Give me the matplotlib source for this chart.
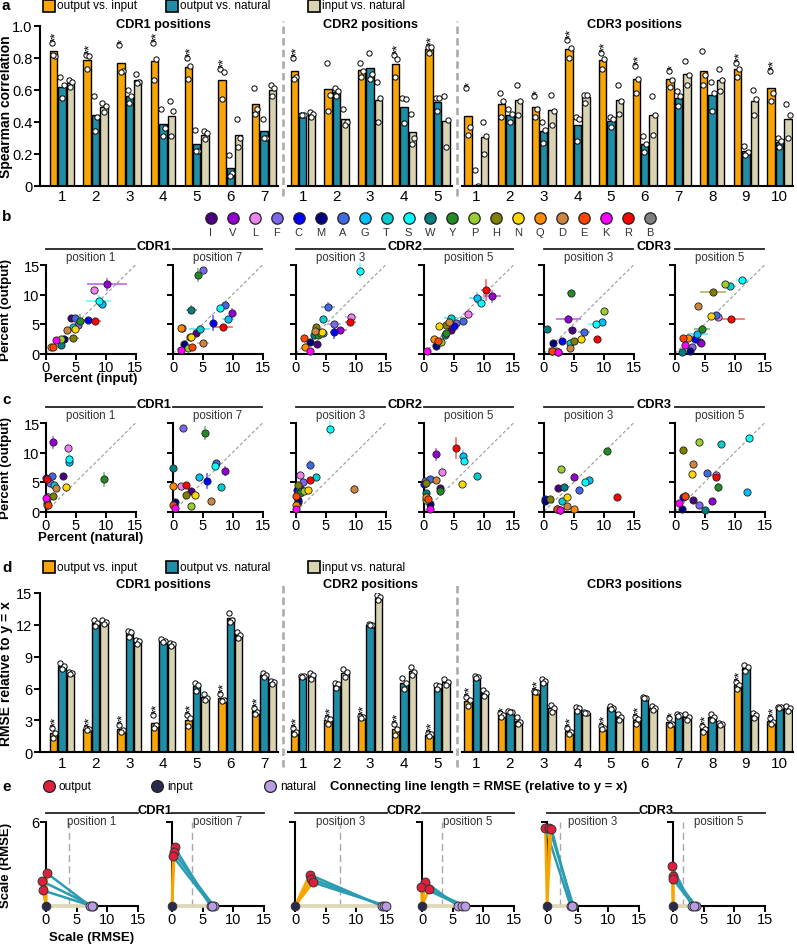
import matplotlib
matplotlib.use("Agg")
import matplotlib.pyplot as plt
import matplotlib.transforms as mtransforms
import numpy as np

plt.rcParams["font.family"] = ["Liberation Sans", "DejaVu Sans"]

# ---------------- data ----------------
GROUPS = ["CDR1", "CDR2", "CDR3"]
POS_LABELS = ["1", "2", "3", "4", "5", "6", "7", "1", "2", "3", "4", "5",
              "1", "2", "3", "4", "5", "6", "7", "8", "9", "10"]
SERIES = ["output vs. input", "output vs. natural", "input vs. natural"]

# a: Spearman correlation, three replicates per bar
SPEAR_OUT_IN = [
    (0.89, 0.81, 0.82), (0.82, 0.81, 0.73), (0.88, 0.72, 0.71), (0.89, 0.79, 0.66),
    (0.80, 0.75, 0.67), (0.73, 0.71, 0.54), (0.61, 0.48, 0.45),
    (0.80, 0.68, 0.67), (0.77, 0.57, 0.47), (0.77, 0.72, 0.68), (0.82, 0.79, 0.68),
    (0.87, 0.87, 0.83),
    (0.61, 0.37, 0.32), (0.58, 0.53, 0.43), (0.56, 0.48, 0.43), (0.91, 0.86, 0.80),
    (0.83, 0.79, 0.73), (0.75, 0.67, 0.58), (0.72, 0.66, 0.62), (0.84, 0.69, 0.63),
    (0.77, 0.73, 0.68), (0.72, 0.58, 0.53),
]
SPEAR_OUT_NAT = [
    (0.68, 0.63, 0.55), (0.56, 0.43, 0.34), (0.60, 0.56, 0.52), (0.48, 0.36, 0.31),
    (0.35, 0.22, 0.22), (0.19, 0.08, 0.06), (0.42, 0.30, 0.30),
    (0.44, 0.44, 0.44), (0.61, 0.59, 0.56), (0.83, 0.70, 0.67), (0.55, 0.54, 0.39),
    (0.55, 0.55, 0.47),
    (0.10, 0.0, -0.08), (0.48, 0.45, 0.40), (0.40, 0.35, 0.27), (0.43, 0.42, 0.28),
    (0.43, 0.42, 0.37), (0.31, 0.26, 0.21), (0.59, 0.56, 0.50), (0.65, 0.58, 0.47),
    (0.25, 0.21, 0.19), (0.30, 0.28, 0.24),
]
SPEAR_IN_NAT = [
    (0.66, 0.65, 0.62), (0.52, 0.50, 0.46), (0.70, 0.65, 0.64), (0.53, 0.47, 0.31),
    (0.34, 0.33, 0.29), (0.42, 0.30, 0.24), (0.63, 0.61, 0.56),
    (0.46, 0.45, 0.43), (0.48, 0.40, 0.38), (0.65, 0.55, 0.40), (0.45, 0.30, 0.26),
    (0.56, 0.41, 0.24),
    (0.40, 0.31, 0.20), (0.63, 0.53, 0.44), (0.57, 0.47, 0.38), (0.57, 0.57, 0.52),
    (0.63, 0.53, 0.45), (0.56, 0.44, 0.32), (0.78, 0.69, 0.63), (0.73, 0.66, 0.59),
    (0.60, 0.54, 0.44), (0.51, 0.44, 0.30),
]
SPEAR_STARS = ["**", "**", "*", "**", "**", "**", "",
               "**", "", "", "**", "**",
               "*", "", "*", "**", "**", "**", "*", "", "**", "**"]
SPEAR_TICKS = [0, 0.2, 0.4, 0.6, 0.8, 1.0]
SPEAR_TICKLABELS = ["0", "0.2", "0.4", "0.6", "0.8", "1.0"]

# d: RMSE relative to y = x, three replicates per bar
RMSE_OUT_IN = [
    (2.3, 1.8, 1.3), (2.3, 2.2, 2.1), (2.6, 2.1, 1.9), (3.5, 2.6, 2.3),
    (3.5, 3.2, 2.5), (5.5, 4.9, 4.8), (4.2, 3.8, 3.6),
    (2.3, 1.9, 1.7), (3.2, 3.1, 2.7), (3.4, 3.3, 3.2), (2.7, 2.2, 1.6), (1.8, 1.7, 1.5),
    (5.2, 4.9, 4.4), (3.7, 3.5, 3.3), (5.8, 5.7, 5.7), (2.3, 1.9, 1.7), (2.5, 2.3, 2.2),
    (3.3, 3.1, 2.7), (3.2, 2.7, 2.6), (2.5, 2.2, 1.9), (6.6, 6.3, 6.0), (3.2, 2.9, 2.7),
]
RMSE_OUT_NAT = [
    (8.4, 8.1, 7.8), (12.5, 12.2, 11.9), (11.4, 11.3, 10.9), (10.7, 10.5, 10.4),
    (6.5, 6.3, 5.8), (13.1, 12.5, 12.3), (7.5, 7.3, 7.1),
    (7.2, 7.2, 7.1), (6.5, 6.4, 6.1), (12.1, 12.0, 12.0), (7.0, 6.5, 6.0), (6.3, 6.2, 6.0),
    (7.2, 7.1, 7.0), (3.9, 3.8, 3.8), (6.9, 6.7, 6.5), (4.3, 4.2, 3.9), (4.4, 4.2, 4.1),
    (5.2, 5.1, 5.1), (3.6, 3.5, 3.4), (3.6, 3.3, 3.0), (8.2, 8.0, 7.7), (4.3, 4.3, 4.2),
]
RMSE_IN_NAT = [
    (7.6, 7.5, 7.4), (12.5, 12.3, 12.1), (10.6, 10.5, 10.2), (10.3, 10.2, 10.0),
    (5.5, 5.1, 4.9), (11.3, 11.0, 10.8), (6.7, 6.6, 6.4),
    (7.5, 7.3, 6.9), (7.8, 7.6, 7.1), (14.8, 14.6, 14.3), (8.0, 7.6, 7.3), (6.9, 6.6, 6.3),
    (5.9, 5.6, 5.3), (3.3, 2.9, 2.7), (4.5, 4.2, 3.8), (3.8, 3.7, 3.7), (3.6, 3.3, 3.0),
    (4.4, 4.2, 4.0), (3.6, 3.3, 3.0), (2.8, 2.7, 2.6), (3.7, 3.5, 3.2), (4.4, 4.2, 3.9),
]
RMSE_STARS = ["**"] * 12 + ["**", "*", "**", "**", "**", "**", "*", "**", "**", "**"]
RMSE_TICKS = [0, 3, 6, 9, 12, 15]
RMSE_TICKLABELS = ["0", "3", "6", "9", "12", "15"]

# b, c: amino acid percentages
AAS = list("IVLFCMAGTSWYPHNQDEKR")
LEGEND_AAS = AAS + ["B"]
AA_COLORS = ["#4B0082", "#9400D3", "#EE82EE", "#7B68EE", "#0000FF", "#000080",
             "#4169E1", "#00BFFF", "#00CED1", "#00FFFF", "#008080", "#228B22",
             "#9ACD32", "#808000", "#FFD700", "#FF8C00", "#CD853F", "#FF4500",
             "#FF00FF", "#FF0000", "#808080"]
SC_POSITION = ["position 1", "position 7", "position 3", "position 5", "position 3", "position 5"]

#                I     V     L     F     C     M     A     G     T     S     W     Y     P     H     N     Q     D     E     K     R
PCT_OUTPUT = [
    [6.1, 11.7, 10.8, 4.9, 5.6, 2.5, 6.0, 8.35, 4.5, 8.9, 1.4, 5.5, 2.4, 2.7, 4.2, 1.1, 4.0, 1.1, 2.3, 5.5],
    [3.4, 6.9, 4.3, 14.1, 5.1, 1.6, 8.2, 5.8, 4.2, 7.7, 7.4, 13.3, 0.9, 2.8, 2.8, 4.4, 1.7, 1.1, 0.6, 4.5],
    [1.65, 3.9, 6.2, 5.0, 3.6, 1.9, 7.95, 3.4, 5.8, 14.0, 3.2, 3.07, 3.5, 4.5, 3.6, 1.1, 3.8, 2.6, 0.4, 5.35],
    [3.9, 9.7, 6.7, 5.2, 4.6, 1.2, 5.5, 9.4, 6.0, 8.5, 3.1, 3.5, 1.9, 4.85, 4.7, 2.5, 5.3, 2.1, 0.5, 10.8],
    [4.0, 5.8, 0.3, 0.35, 2.1, 1.8, 3.7, 5.4, 1.8, 5.06, 4.15, 10.2, 7.2, 2.2, 2.45, 0.5, 1.0, 0.35, 0.3, 2.45],
    [1.9, 1.8, 6.25, 1.1, 2.4, 0.4, 6.5, 3.35, 11.5, 12.4, 0.2, 4.1, 11.8, 10.45, 6.3, 2.6, 8.0, 2.7, 1.4, 5.9],
]
PCT_INPUT = [
    [4.2, 10.2, 8.0, 5.3, 7.0, 3.0, 4.9, 9.4, 4.5, 8.8, 2.5, 5.7, 2.5, 4.5, 4.8, 0.8, 3.6, 1.2, 1.7, 8.2],
    [3.9, 9.9, 1.5, 5.0, 6.7, 1.9, 8.7, 9.2, 4.5, 7.8, 3.1, 4.2, 2.5, 2.8, 3.0, 1.4, 5.0, 3.2, 1.3, 8.4],
    [3.5, 7.4, 9.2, 6.3, 6.4, 2.3, 5.4, 4.5, 4.5, 10.7, 3.0, 3.7, 4.2, 3.3, 4.4, 1.55, 3.2, 1.4, 2.3, 9.1],
    [4.5, 11.4, 7.4, 5.4, 5.0, 1.95, 6.6, 8.9, 4.6, 9.6, 3.5, 3.7, 2.9, 3.7, 2.5, 1.6, 4.2, 2.4, 0.5, 10.4],
    [4.7, 4.1, 2.3, 1.3, 3.0, 1.5, 6.7, 9.7, 4.4, 8.7, 0.55, 4.45, 10.0, 5.0, 6.2, 2.0, 4.3, 1.3, 2.3, 8.8],
    [4.2, 4.4, 7.2, 2.8, 3.3, 2.5, 6.8, 3.75, 9.3, 11.3, 1.1, 4.5, 8.3, 6.4, 6.0, 2.1, 3.9, 1.3, 1.7, 9.4],
]
PCT_NATURAL = [
    [2.9, 1.25, 3.65, 0.7, 0.0, 0.15, 0.95, 3.9, 1.35, 3.9, 0.2, 9.7, 0.4, 1.25, 3.3, 0.1, 1.7, 0.3, 0.0, 0.2],
    [3.0, 8.7, 1.4, 1.7, 5.7, 0.4, 7.2, 4.4, 8.0, 7.0, 0.0, 5.4, 3.0, 2.1, 3.7, 0.0, 6.3, 0.05, 0.4, 2.1],
    [0.3, 0.7, 0.7, 1.2, 0.15, 0.35, 2.3, 0.5, 3.3, 5.7, 0.4, 0.7, 1.4, 0.33, 2.0, 0.05, 9.7, 0.05, 0.05, 2.3],
    [2.7, 2.0, 3.0, 0.1, 0.0, 1.06, 1.06, 6.6, 8.8, 6.7, 0.4, 2.7, 0.4, 0.4, 6.3, 0.3, 2.0, 0.7, 1.06, 5.4],
    [2.4, 5.1, 2.6, 2.1, 0.2, 0.1, 5.8, 7.6, 3.0, 6.8, 3.4, 10.5, 2.8, 1.0, 3.8, 5.1, 3.8, 2.1, 2.6, 12.2],
    [3.1, 6.2, 6.8, 4.1, 1.4, 1.1, 5.4, 12.1, 7.7, 12.4, 5.1, 7.2, 4.1, 1.4, 2.8, 1.7, 3.1, 1.6, 0.7, 6.8],
]
OUTPUT_ERR = [
    {"V": 0.9, "Y": 1.1, "S": 0.8, "G": 0.4},
    {"Y": 1.0, "C": 1.2, "V": 0.7, "W": 0.6},
    {"S": 1.1, "C": 0.9, "A": 0.6, "L": 0.5, "D": 0.6},
    {"R": 1.7, "V": 0.9, "G": 0.8, "L": 0.7, "S": 0.5},
    {"V": 0.5, "Y": 0.4},
    {"Y": 0.6, "H": 0.3},
]
INPUT_ERR = [
    {"V": 3.2, "S": 2.0, "H": 0.9, "R": 0.8, "Y": 0.6, "C": 0.5},
    {"R": 1.5, "T": 1.6, "W": 0.8, "D": 0.8, "G": 0.8, "C": 0.4},
    {"A": 1.0, "L": 0.9, "R": 0.8, "V": 0.9, "F": 1.0, "C": 0.6},
    {"V": 1.3, "G": 1.2, "L": 0.9, "T": 1.1, "R": 0.6},
    {"V": 2.0, "S": 1.2, "A": 0.8, "N": 0.7, "Y": 0.5},
    {"H": 2.0, "R": 2.2, "Y": 1.2, "G": 1.6, "S": 0.9, "T": 0.8},
]

# e: output points (x, y) and natural distances, three replicates each
E_OUT_X = [[0.16, -0.65, -0.49], [0.44, 0.27, 0.16], [2.38, 2.66, 2.93],
           [0.55, -0.11, 1.15], [-0.27, 0.38, 0.71], [-0.16, 0.0, -0.05]]
E_OUT_Y = [[2.34, 1.77, 1.11], [4.18, 3.83, 3.54], [2.24, 1.94, 1.68],
           [1.70, 1.35, 1.18], [5.60, 5.60, 5.53], [2.83, 2.17, 1.94]]
E_NAT_X = [[7.2, 7.6, 7.5], [6.3, 6.8, 6.5], [14.2, 14.5, 14.9],
           [5.9, 6.5, 7.0], [3.85, 4.3, 4.1], [3.1, 3.7, 3.4]]
E_LEGEND = ["output", "input", "natural"]

# ---------------- layout ----------------
W, H = 797, 945
fig = plt.figure(figsize=(W / 100, H / 100), dpi=100)

BAR_COLORS = ["#F7A507", "#1F8DA5", "#D9D3B1"]
E_RED, E_NAVY, E_LAV = "#DE1F3D", "#2A2A4C", "#B99DE3"
E_ORANGE, E_TEAL, E_BEIGE = "#F8A500", "#2B9CB1", "#DDD7B6"


def px_rect(left, top, width, height):
    return [left / W, 1 - (top + height) / H, width / W, height / H]


over = fig.add_axes([0, 0, 1, 1], zorder=10)
over.set_xlim(0, W)
over.set_ylim(H, 0)
over.axis("off")
over.patch.set_visible(False)

for letter, y in zip("abcde", [6, 217, 400, 568, 787]):
    over.text(2, y, letter, fontsize=11, fontweight="bold", ha="left", va="center")


def style_spines(ax, size=11, pad=1.5):
    for s in ["top", "right"]:
        ax.spines[s].set_visible(False)
    for s in ["left", "bottom"]:
        ax.spines[s].set_linewidth(1.5)
    ax.tick_params(direction="out", length=4, width=1.4, labelsize=size, pad=pad)


CENTERS = np.concatenate([np.arange(7), 7.15 + np.arange(5), 12.3 + np.arange(10)])
SEPS = [(6 + 7.15) / 2, (11.15 + 12.3) / 2]
XLIM = (-0.65, 21.7)
OFFSETS = [-0.25, 0.0, 0.25]
JITTER = [-0.045, 0.05, -0.01]
TITLE_X = [3.0, 9.15, 17.0]


def bar_legend(y):
    for xc, xt, col, lab in zip([49, 172, 314], [57, 180, 322], BAR_COLORS, SERIES):
        over.add_patch(plt.Rectangle((xc - 6, y - 6), 12, 12, facecolor=col,
                                     edgecolor="black", lw=1.2))
        over.text(xt, y, lab, fontsize=8.5, va="center", ha="left")


def bar_panel(top, height, reps, stars, ymax, ticks, ticklabels, ylabel,
              star_pad, title_y, sep_top, sep_bottom):
    ax = fig.add_axes(px_rect(40, top, 753, height))
    for k, series in enumerate(reps):
        arr = np.array(series)
        xs = CENTERS + OFFSETS[k]
        ax.bar(xs, arr.mean(axis=1), width=0.22, color=BAR_COLORS[k],
               edgecolor="black", lw=1.0, zorder=2)
        for j, jit in enumerate(JITTER):
            ax.plot(xs + jit, arr[:, j], "o", ms=3.8, mfc="white", mec="black",
                    mew=0.7, zorder=3)
    tops = np.array(reps[0]).max(axis=1)
    for x, v, s in zip(CENTERS, tops, stars):
        if s:
            ax.text(x + OFFSETS[0] + 0.08, v + star_pad, s, rotation=90, ha="center",
                    va="bottom", fontsize=9.5, linespacing=1.0)
    ax.set_xlim(*XLIM)
    ax.set_ylim(0, ymax)
    style_spines(ax, size=10.5, pad=1.5)
    ax.spines["bottom"].set_visible(False)
    edges = [XLIM[0], SEPS[0] - 0.15, SEPS[0] + 0.15, SEPS[1] - 0.15, SEPS[1] + 0.15, XLIM[1]]
    for a, b in zip(edges[::2], edges[1::2]):
        ax.plot([a, b], [0, 0], color="black", lw=1.5, clip_on=False, zorder=4)
    for s in SEPS:
        ax.axvline(s, ymin=sep_bottom, ymax=sep_top, color="#ABABAB", lw=1.9,
                   dashes=(2.8, 1.6), clip_on=False)
    ax.set_yticks(ticks)
    ax.set_yticklabels(ticklabels)
    ax.set_xticks(CENTERS)
    ax.set_xticklabels(POS_LABELS)
    ax.tick_params(axis="x", length=0, pad=2.5, labelsize=11)
    trans = mtransforms.blended_transform_factory(ax.transData, over.transData)
    for g, tx in zip(GROUPS, TITLE_X):
        over.text(tx, title_y, g + " positions", transform=trans, ha="center",
                  va="center", fontsize=9.2, fontweight="bold")
    over.text(6, top + height / 2, ylabel, rotation=90, ha="center", va="center",
              fontsize=10, fontweight="bold")
    return ax


# panel a
bar_legend(6.5)
bar_panel(26.7, 160, [SPEAR_OUT_IN, SPEAR_OUT_NAT, SPEAR_IN_NAT], SPEAR_STARS,
          1.0, SPEAR_TICKS, SPEAR_TICKLABELS, "Spearman correlation", 0.012,
          25, 1.03, -0.064)

# panel d
bar_legend(568)
bar_panel(594, 159.3, [RMSE_OUT_IN, RMSE_OUT_NAT, RMSE_IN_NAT], RMSE_STARS,
          15, RMSE_TICKS, RMSE_TICKLABELS, "RMSE relative to y = x", 0.2,
          585, 1.069, -0.092)

# amino acid legend
for i, (aa, col) in enumerate(zip(LEGEND_AAS, AA_COLORS)):
    x = 211 + 21.95 * i
    over.plot(x, 219, "o", ms=8.2, mfc=col, mec="#222222", mew=0.9)
    over.text(x, 233.5, aa, ha="center", va="center", fontsize=8, color="#333333")


def headers(lefts, width, y_line, y_text, y_pos):
    for g, (i, j) in enumerate([(0, 1), (2, 3), (4, 5)]):
        for k in (i, j):
            over.plot([lefts[k], lefts[k] + width], [y_line, y_line], color="#222222", lw=1.3)
            over.text(lefts[k] + width / 2, y_pos, SC_POSITION[k], ha="center",
                      va="center", fontsize=8.3, color="#333333")
        over.text((lefts[i] + width + lefts[j]) / 2, y_text, GROUPS[g], ha="center",
                  va="center", fontsize=9.3, fontweight="bold")


SC_LEFTS = [46, 173, 296, 424, 544, 675]
SC_W, SC_H = 89.5, 88.5


def scatter_row(top, xvals, show_xerr, xlabel, xlabel_y):
    headers(SC_LEFTS, SC_W, top - 16, top - 19.5, top - 7.5)
    for p in range(6):
        ax = fig.add_axes(px_rect(SC_LEFTS[p], top, SC_W, SC_H))
        ax.set_xlim(0, 15)
        ax.set_ylim(0, 15)
        ax.plot([0, 15], [0, 15], color="#9A9A9A", lw=0.8, dashes=(3, 2), zorder=1)
        for i, aa in enumerate(AAS):
            x, y = xvals[p][i], PCT_OUTPUT[p][i]
            col = AA_COLORS[i]
            ye = OUTPUT_ERR[p].get(aa, 0)
            xe = INPUT_ERR[p].get(aa, 0) if show_xerr else 0
            if ye:
                ax.plot([x, x], [y - ye, y + ye], color=col, alpha=0.55, lw=1.3,
                        zorder=2, clip_on=False)
            if xe:
                ax.plot([x - xe, x + xe], [y, y], color=col, alpha=0.55, lw=1.3,
                        zorder=2, clip_on=False)
            ax.plot(x, y, "o", ms=5.2, mfc=col, mec="#222222", mew=0.6, zorder=3,
                    clip_on=False)
        style_spines(ax, size=10.5, pad=0.5)
        ax.set_xticks([0, 5, 10, 15])
        ax.set_yticks([0, 5, 10, 15])
        if p > 0:
            ax.set_yticklabels([])
    over.text(SC_LEFTS[0] + SC_W / 2, xlabel_y, xlabel, ha="center", va="center",
              fontsize=9.5, fontweight="bold")
    over.text(6.5, top + SC_H / 2, "Percent (output)", rotation=90, ha="center",
              va="center", fontsize=9.5, fontweight="bold")


scatter_row(266, PCT_INPUT, True, "Percent (input)", 379)
scatter_row(424, PCT_NATURAL, False, "Percent (natural)", 538)

# panel e legend
for x, col, lab in zip([49, 157, 270], [E_RED, E_NAVY, E_LAV], E_LEGEND):
    over.plot(x, 787, "o", ms=8.5, mfc=col, mec="#222222", mew=0.9)
    over.text(x + 10, 787, lab, fontsize=8.5, va="center", ha="left")
over.text(330, 787, "Connecting line length = RMSE (relative to y = x)",
          fontsize=9.4, fontweight="bold", va="center", ha="left")

E_LEFTS = [46, 172, 295, 422, 547, 673]
E_W, E_H = 92, 84
headers(E_LEFTS, E_W, 813.5, 810.5, 821.5)
for p in range(6):
    ax = fig.add_axes(px_rect(E_LEFTS[p], 823, E_W, E_H))
    ax.set_xlim(0, 15)
    ax.set_ylim(0, 6)
    nat = np.array(E_NAT_X[p])
    ox, oy = np.array(E_OUT_X[p]), np.array(E_OUT_Y[p])
    dash_x = nat.mean() / 2
    ax.plot([dash_x, dash_x], [0, 6], color="#A8A8A8", lw=1.0, dashes=(5, 3), zorder=1)
    style_spines(ax, size=10.5, pad=0.5)
    ax.plot([0, nat.max()], [0, 0], color=E_BEIGE, lw=2.6, zorder=3, clip_on=False)
    for xo, yo, xn in zip(ox, oy, nat):
        ax.plot([0, xo], [0, yo], color=E_ORANGE, lw=1.8, zorder=3, clip_on=False)
        ax.plot([xo, xn], [yo, 0], color=E_TEAL, lw=1.8, zorder=3, clip_on=False)
    ax.plot(nat, np.zeros_like(nat), "o", ms=6.4, mfc=E_LAV, mec="#333333", mew=0.7,
            zorder=5, clip_on=False)
    ax.plot([0], [0], "o", ms=6.2, mfc=E_NAVY, mec="#333333", mew=0.7, zorder=5,
            clip_on=False)
    ax.plot(ox, oy, "o", ms=6.4, mfc=E_RED, mec="#333333", mew=0.7, zorder=6,
            clip_on=False)
    ax.set_xticks([0, 5, 10, 15])
    ax.set_yticks([6])
    if p > 0:
        ax.set_yticklabels([])
over.text(E_LEFTS[0] + E_W / 2, 938, "Scale (RMSE)", ha="center", va="center",
          fontsize=9.5, fontweight="bold")
over.text(6.5, 823 + E_H / 2, "Scale (RMSE)", rotation=90, ha="center", va="center",
          fontsize=9.5, fontweight="bold")

fig.savefig("out.png", dpi=100)
